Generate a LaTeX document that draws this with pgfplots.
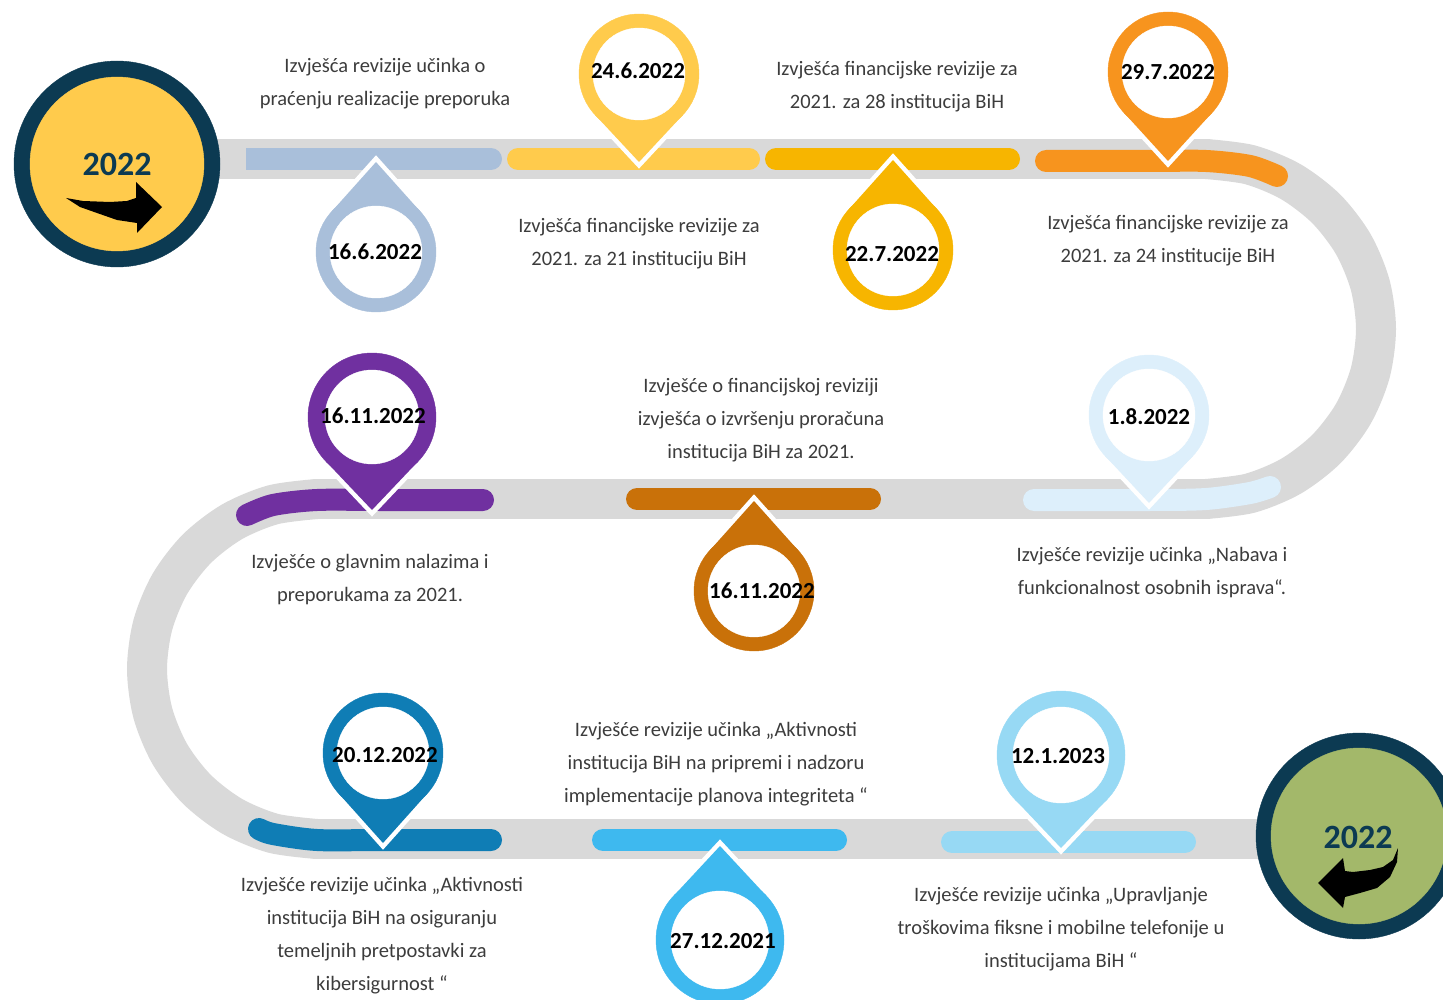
\documentclass[border=0pt]{standalone}
\usepackage{fontspec}
\setmainfont{Carlito}
\usepackage{pgfplots}
\pgfplotsset{compat=1.18}
\definecolor{road}{HTML}{D9D9D9}
\definecolor{steel}{HTML}{A9BFDA}
\definecolor{yellowA}{HTML}{FFCB4C}
\definecolor{amber}{HTML}{F7B500}
\definecolor{orangeA}{HTML}{F7941E}
\definecolor{pale}{HTML}{DDEFFB}
\definecolor{darkorange}{HTML}{C97109}
\definecolor{purpleA}{HTML}{7030A0}
\definecolor{darkblue}{HTML}{0F7DB5}
\definecolor{skyblue}{HTML}{3EB9EF}
\definecolor{lightblue}{HTML}{97D9F4}
\definecolor{navy}{HTML}{0C3A52}
\definecolor{greenC}{HTML}{A3B86A}
\definecolor{txt}{HTML}{3C3C3C}
\newcommand\bodyfont{\fontsize{20.5}{33}\selectfont}
\newcommand\datefont{\fontsize{23}{23}\selectfont\bfseries}
% #1 colour, #2 cx, #3 cy, #4 tip y, #5 outer R, #6 inner r, #7 label, #8 label x, #9 label y
\newcommand\pin[9]{%
  \pgfmathsetmacro\pdd{#4-#3}%
  \pgfmathsetmacro\pad{abs(\pdd)}%
  \pgfmathsetmacro\pty{#3+#5*#5/\pdd}%
  \pgfmathsetmacro\ptx{#5*sqrt(1-(#5/\pad)^2)}%
  \pgfmathsetmacro\pxl{#2-\ptx}%
  \pgfmathsetmacro\pxr{#2+\ptx}%
  \addplot[draw=white, line width=9pt, line join=miter] coordinates {(\pxl,\pty) (#2,#4) (\pxr,\pty)};
  \addplot[fill=#1, draw=none] coordinates {(\pxl,\pty) (#2,#4) (\pxr,\pty)};
  \addplot[only marks, mark=*, mark size=#5pt, color=#1] coordinates {(#2,#3)};
  \addplot[only marks, mark=*, mark size=#6pt, color=white] coordinates {(#2,#3)};
  \node[font=\datefont, text=black] at (axis cs:#8,#9) {#7};
}
\begin{document}
\begin{tikzpicture}
\begin{axis}[scale only axis, width=1443pt, height=1000pt,
  xmin=0, xmax=1443, ymin=0, ymax=1000, y dir=reverse,
  hide axis, enlargelimits=false, clip=true, clip marker paths=true]
% road
\addplot[road, line width=40pt, line cap=round] coordinates {(215,159) (1206,159)};
\addplot[road, line width=40pt, line cap=round, smooth] coordinates {
 (1206,159) (1250.0,164.8) (1291.0,181.8) (1326.2,208.8)
 (1353.2,244.0) (1370.2,285.0) (1376,329) (1370.2,373.0) (1353.2,414.0) (1326.2,449.2)
 (1291.0,476.2) (1250.0,493.2) (1206,499)};
\addplot[road, line width=40pt, line cap=round] coordinates {(1206,499) (317,499)};
\addplot[road, line width=40pt, line cap=round, smooth] coordinates {
 (317,499) (273.0,504.8) (232.0,521.8) (196.8,548.8) (169.8,584.0) (152.8,625.0) (147,669)
 (152.8,713.0) (169.8,754.0) (196.8,789.2) (232.0,816.2) (273.0,833.2) (317,839)};
\addplot[road, line width=40pt, line cap=round] coordinates {(317,839) (1460,839)};
% coloured bars
\addplot[steel, line width=22pt, line cap=round] coordinates {(257,159) (491,159)};
\addplot[steel, line width=22pt] coordinates {(246,159) (300,159)};
\addplot[yellowA, line width=22pt, line cap=round] coordinates {(518,159) (749,159)};
\addplot[amber, line width=22pt, line cap=round] coordinates {(776,159) (1009,159)};
\addplot[orangeA, line width=22pt, line cap=round, smooth] coordinates {(1046,161) (1150,161) (1206,161) (1250,166) (1277,176)};
\addplot[pale, line width=22pt, line cap=round, smooth] coordinates {(1034,500) (1150,500) (1206,499) (1250,493) (1270,487)};
\addplot[darkorange, line width=22pt, line cap=round] coordinates {(637,499) (870,499)};
\addplot[purpleA, line width=22pt, line cap=round, smooth] coordinates {(483,500) (380,500) (317,500) (273,505) (247,515)};
\addplot[darkblue, line width=22pt, line cap=round, smooth] coordinates {(491,840) (380,840) (317,840) (273,834) (259,829)};
\addplot[skyblue, line width=22pt, line cap=round] coordinates {(603,840) (836,840)};
\addplot[lightblue, line width=22pt, line cap=round] coordinates {(952,842) (1185,842)};
% pins
\pin{steel}{376}{252}{162}{60}{46}{16.6.2022}{375}{252}
\pin{yellowA}{639}{74}{162}{60}{46}{24.6.2022}{638}{71}
\pin{amber}{893}{250}{160}{60}{46}{22.7.2022}{892}{254}
\pin{orangeA}{1168}{72}{161}{60}{46}{29.7.2022}{1168}{72}
\pin{purpleA}{372}{417}{510}{64}{47}{16.11.2022}{373}{416}
\pin{pale}{1149}{415}{503}{60}{46}{1.8.2022}{1149}{417}
\pin{darkorange}{754}{591}{501}{60}{46}{16.11.2022}{762}{591}
\pin{darkblue}{383}{753}{843}{60}{46}{20.12.2022}{385}{755}
\pin{lightblue}{1061}{755}{848}{64}{48}{12.1.2023}{1058}{756}
\pin{skyblue}{720}{940}{846}{64}{49}{27.12.2021}{723}{941}
% descriptions
\node[font=\bodyfont, text=txt, align=center] at (axis cs:385,84) {Izvješća revizije učinka o\\praćenju realizacije preporuka};
\node[font=\bodyfont, text=txt, align=center] at (axis cs:897,87) {Izvješća financijske revizije za\\2021. za 28 institucija BiH};
\node[font=\bodyfont, text=txt, align=center] at (axis cs:639,244) {Izvješća financijske revizije za\\2021. za 21 instituciju BiH};
\node[font=\bodyfont, text=txt, align=center] at (axis cs:1168,241) {Izvješća financijske revizije za\\2021. za 24 institucije BiH};
\node[font=\bodyfont, text=txt, align=center] at (axis cs:761,420) {Izvješće o financijskoj reviziji\\izvješća o izvršenju proračuna\\institucija BiH za 2021.};
\node[font=\bodyfont, text=txt, align=center] at (axis cs:370,580) {Izvješće o glavnim nalazima i\\preporukama za 2021.};
\node[font=\bodyfont, text=txt, align=center] at (axis cs:1152,573) {Izvješće revizije učinka „Nabava i\\funkcionalnost osobnih isprava“.};
\node[font=\bodyfont, text=txt, align=center] at (axis cs:716,764) {Izvješće revizije učinka „Aktivnosti\\institucija BiH na pripremi i nadzoru\\implementacije planova integriteta “};
\node[font=\bodyfont, text=txt, align=center] at (axis cs:382,936) {Izvješće revizije učinka „Aktivnosti\\institucija BiH na osiguranju\\temeljnih pretpostavki za\\kibersigurnost “};
\node[font=\bodyfont, text=txt, align=center] at (axis cs:1061,929) {Izvješće revizije učinka „Upravljanje\\troškovima fiksne i mobilne telefonije u\\institucijama BiH “};
% year circles
\addplot[only marks, mark=*, mark size=103pt, color=navy] coordinates {(117,164)};
\addplot[only marks, mark=*, mark size=87pt, color=yellowA] coordinates {(117,164)};
\addplot[only marks, mark=*, mark size=103pt, color=navy] coordinates {(1359,836)};
\addplot[only marks, mark=*, mark size=88pt, color=greenC] coordinates {(1359,836)};
\addplot[fill=black, draw=none] coordinates {(66,198) (83,201) (110,202) (127,201) (136,198) (136,182) (162,207) (137,233) (137,223) (117,220) (97,213) (80,207)};
\addplot[fill=black, draw=none] coordinates {(1398,848) (1393,860) (1383,867) (1370,870) (1353,872) (1345,871) (1343,858) (1318,883) (1343,908) (1345,897) (1360,893) (1377,888) (1390,877) (1397,862)};
\node[font=\fontsize{34}{34}\selectfont\bfseries, text=navy] at (axis cs:117,164) {2022};
\node[font=\fontsize{34}{34}\selectfont\bfseries, text=navy] at (axis cs:1358,837) {2022};
\end{axis}
\pgfresetboundingbox
\useasboundingbox (0,0) rectangle (1443pt,1000pt);
\end{tikzpicture}
\end{document}
